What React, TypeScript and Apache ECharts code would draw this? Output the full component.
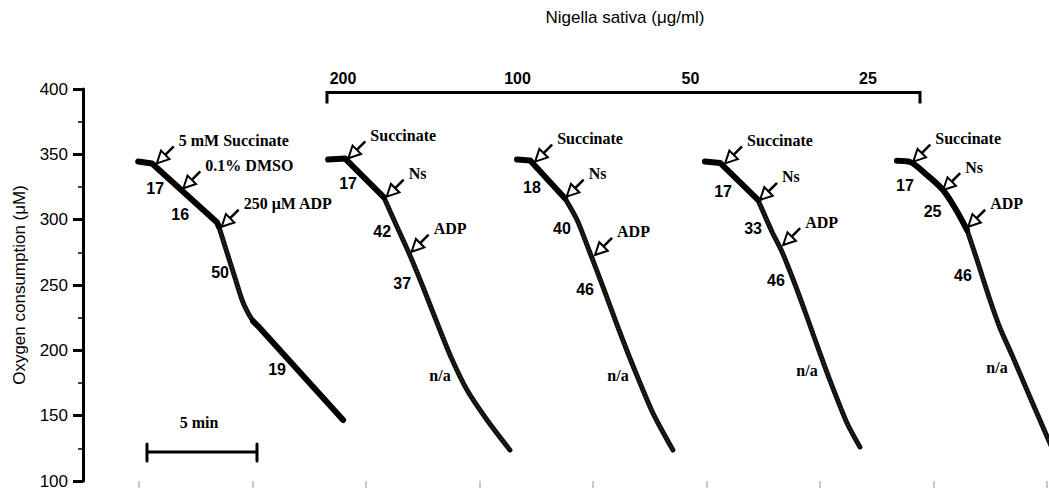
import React, { useEffect, useRef } from 'react';
import * as echarts from 'echarts';

// [time (min), O2 (µM)]
const trace1Basal = [[-0.04, 344.5], [0.57, 343.0], [3.44, 297.8], [3.52, 294.4]];
const trace1Adp = [[3.52, 294.4], [3.88, 274.5], [4.23, 255.4], [4.54, 238.5], [4.80, 228.6], [5.02, 222.4]];
const trace1Late = [[5.02, 222.4], [5.24, 218.6], [8.99, 146.7]];

const trace2Basal = [[8.33, 346.0], [9.08, 346.8], [10.79, 317.0]];
const trace2Ns = [[10.79, 317.0], [11.37, 294.4], [11.89, 274.5], [12.51, 248.5], [13.08, 223.2], [13.74, 194.9], [14.45, 169.6], [15.33, 146.7], [16.34, 123.7]];

const trace3Basal = [[16.65, 346.0], [17.23, 345.3], [18.77, 316.2]];
const trace3Ns = [[18.77, 316.2], [19.30, 299.7], [19.87, 274.5], [20.44, 248.5], [21.01, 221.7], [21.45, 201.8], [21.89, 182.7], [22.64, 152.0], [23.52, 123.7]];

const trace4Basal = [[24.93, 344.5], [25.60, 343.4], [27.27, 315.1]];
const trace4Ns = [[27.27, 315.1], [27.89, 290.6], [28.33, 275.3], [28.86, 252.3], [29.38, 227.8], [29.82, 206.4], [30.40, 178.8], [31.19, 144.4], [31.76, 126.0]];

const trace5Basal = [[33.39, 345.1], [33.97, 344.1], [34.71, 334.2], [35.42, 322.7], [35.95, 308.9], [36.48, 292.1]];
const trace5Adp = [[36.48, 292.1], [36.92, 269.1], [37.49, 238.5], [37.93, 217.1], [38.46, 196.4], [39.25, 164.3], [40.09, 130.6], [40.57, 111.5]];

const xTickMinutes = [0, 5, 10, 15, 20, 25, 30, 35, 40];

const arrowTips = [
  [0.78, 343.1], [1.95, 324.0], [3.64, 294.6],
  [9.22, 347.0], [10.91, 317.6], [12.01, 275.5],
  [17.45, 344.4], [18.84, 317.6], [20.09, 273.0],
  [25.82, 343.1], [27.36, 315.1], [28.38, 280.6],
  [34.11, 344.4], [35.43, 322.7], [36.53, 294.6],
];
const arrowLabels = [
  '5 mM Succinate', '0.1% DMSO', '250 μM ADP',
  'Succinate', 'Ns', 'ADP',
  'Succinate', 'Ns', 'ADP',
  'Succinate', 'Ns', 'ADP',
  'Succinate', 'Ns', 'ADP',
];

const rateAnchors = [
  [0.71, 324.2], [1.81, 304.3], [3.57, 259.9], [6.08, 185.7],
  [9.21, 327.3], [10.71, 290.6], [11.59, 250.8],
  [17.31, 324.6], [18.63, 292.9], [19.65, 246.9],
  [25.73, 321.9], [27.05, 292.9], [28.06, 253.1],
  [33.74, 325.8], [34.96, 306.6], [36.30, 256.9],
];
const rateLabels = ['17', '16', '50', '19', '17', '42', '37', '18', '40', '46', '17', '33', '46', '17', '25', '46'];

const naAnchors = [[13.26, 181.1], [21.10, 181.1], [29.43, 184.2], [37.80, 186.9]];
const naLabels = ['n/a', 'n/a', 'n/a', 'n/a'];

const concentrationLabels = ['200', '100', '50', '25'];

const SANS = '"Liberation Sans", Arial, sans-serif';
const SERIF = '"Liberation Serif", "Times New Roman", serif';

function thick(data: number[][], smooth = false) {
  return {
    type: 'line', data, symbol: 'none', smooth: smooth ? 0.3 : false, silent: true, z: 3,
    lineStyle: { color: '#000', width: 6, cap: 'round', join: 'round' },
  };
}
function textured(data: number[][]) {
  return [
    {
      type: 'line', data, symbol: 'none', smooth: 0.25, silent: true, z: 2,
      lineStyle: { color: '#111', width: 5, cap: 'round', join: 'round' },
    },
    {
      type: 'line', data, symbol: 'none', smooth: 0.25, silent: true, z: 2,
      lineStyle: { color: '#5a5a5a', width: 0.8, type: [1, 2.5] },
    },
  ];
}

export default function App() {
  const ref = useRef<HTMLDivElement>(null);
  useEffect(() => {
    const chart = echarts.init(ref.current!, null, { renderer: 'svg' });
    chart.setOption({
      animation: false,
      backgroundColor: '#fff',
      grid: { left: 83, right: 0, top: 89, bottom: 8, outerBoundsMode: 'none' },
      xAxis: {
        type: 'value', min: -2.47, max: 40.09,
        axisLine: { show: false, onZero: false },
        axisTick: { show: true, customValues: xTickMinutes, length: 7, lineStyle: { color: '#c8c8c8', width: 2 } },
        axisLabel: { show: false },
        splitLine: { show: false },
      },
      yAxis: {
        type: 'value', min: 100, max: 400, interval: 50,
        name: 'Oxygen consumption (μM)', nameLocation: 'middle', nameGap: 55,
        nameTextStyle: { fontSize: 17, fontFamily: SANS, color: '#000' },
        axisLine: { show: true, onZero: false, lineStyle: { color: '#000', width: 3 } },
        axisTick: { show: true, length: 10, lineStyle: { color: '#000', width: 3 } },
        minorTick: { show: true, splitNumber: 2, length: 5, lineStyle: { color: '#000', width: 1.5 } },
        axisLabel: { fontSize: 17, lineHeight: 13, fontFamily: SANS, color: '#000', margin: 15 },
        splitLine: { show: false },
      },
      series: [
        thick(trace1Basal), ...textured(trace1Adp), thick(trace1Late),
        thick(trace2Basal), ...textured(trace2Ns),
        thick(trace3Basal), ...textured(trace3Ns),
        thick(trace4Basal), ...textured(trace4Ns),
        thick(trace5Basal, true), ...textured(trace5Adp),
        {
          type: 'custom', coordinateSystem: 'cartesian2d', data: arrowTips, z: 10, silent: true,
          renderItem: (params: any, api: any) => {
            const p = api.coord([api.value(0), api.value(1)]);
            const x = p[0], y = p[1];
            const ux = 0.7071, uy = -0.7071;
            const L = 12, W = 6, S = 24;
            const bx = x + ux * L, by = y + uy * L;
            return {
              type: 'group',
              children: [
                { type: 'line', shape: { x1: bx, y1: by, x2: x + ux * S, y2: y + uy * S }, style: { stroke: '#000', lineWidth: 2.5 } },
                { type: 'polygon', shape: { points: [[x, y], [bx + 0.7071 * W, by + 0.7071 * W], [bx - 0.7071 * W, by - 0.7071 * W]] }, style: { fill: '#fff', stroke: '#000', lineWidth: 2 } },
                { type: 'text', x: x + 22, y: y - 23, style: { text: arrowLabels[params.dataIndex], fill: '#000', fontSize: 16, fontWeight: 'bold', fontFamily: SERIF, align: 'left', verticalAlign: 'middle' } },
              ],
            };
          },
        },
        {
          type: 'custom', coordinateSystem: 'cartesian2d', data: rateAnchors, z: 10, silent: true,
          renderItem: (params: any, api: any) => {
            const p = api.coord([api.value(0), api.value(1)]);
            return { type: 'text', x: p[0], y: p[1], style: { text: rateLabels[params.dataIndex], fill: '#000', fontSize: 16, fontWeight: 'bold', fontFamily: SANS, align: 'center', verticalAlign: 'middle' } };
          },
        },
        {
          type: 'custom', coordinateSystem: 'cartesian2d', data: naAnchors, z: 10, silent: true,
          renderItem: (params: any, api: any) => {
            const p = api.coord([api.value(0), api.value(1)]);
            return { type: 'text', x: p[0], y: p[1], style: { text: naLabels[params.dataIndex], fill: '#000', fontSize: 16, fontWeight: 'bold', fontFamily: SERIF, align: 'center', verticalAlign: 'middle' } };
          },
        },
      ],
      graphic: [
        { type: 'text', x: 625, y: 17.5, style: { text: 'Nigella sativa (μg/ml)', fill: '#000', fontSize: 17, fontFamily: SANS, align: 'center', verticalAlign: 'middle' } },
        { type: 'polyline', shape: { points: [[327, 103.5], [327, 92.5], [920, 92.5], [920, 103.5]] }, style: { stroke: '#000', lineWidth: 3, fill: 'none' } },
        { type: 'text', x: 343, y: 78.5, style: { text: concentrationLabels[0], fill: '#000', fontSize: 16, fontWeight: 'bold', fontFamily: SANS, align: 'center', verticalAlign: 'middle' } },
        { type: 'text', x: 517.5, y: 78.5, style: { text: concentrationLabels[1], fill: '#000', fontSize: 16, fontWeight: 'bold', fontFamily: SANS, align: 'center', verticalAlign: 'middle' } },
        { type: 'text', x: 690.5, y: 78.5, style: { text: concentrationLabels[2], fill: '#000', fontSize: 16, fontWeight: 'bold', fontFamily: SANS, align: 'center', verticalAlign: 'middle' } },
        { type: 'text', x: 868, y: 78, style: { text: concentrationLabels[3], fill: '#000', fontSize: 16, fontWeight: 'bold', fontFamily: SANS, align: 'center', verticalAlign: 'middle' } },
        { type: 'line', shape: { x1: 147, y1: 452, x2: 257, y2: 452 }, style: { stroke: '#000', lineWidth: 3 } },
        { type: 'line', shape: { x1: 147, y1: 444, x2: 147, y2: 461 }, style: { stroke: '#000', lineWidth: 3, lineCap: 'round' } },
        { type: 'line', shape: { x1: 257, y1: 444, x2: 257, y2: 461 }, style: { stroke: '#000', lineWidth: 3, lineCap: 'round' } },
        { type: 'text', x: 199, y: 422, style: { text: '5 min', fill: '#000', fontSize: 16, fontWeight: 'bold', fontFamily: SERIF, align: 'center', verticalAlign: 'middle' } },
      ],
    });
    return () => chart.dispose();
  }, []);
  return <div ref={ref} style={{ position: 'absolute', left: 0, top: 0, width: 1049, height: 489, background: '#fff' }} />;
}
